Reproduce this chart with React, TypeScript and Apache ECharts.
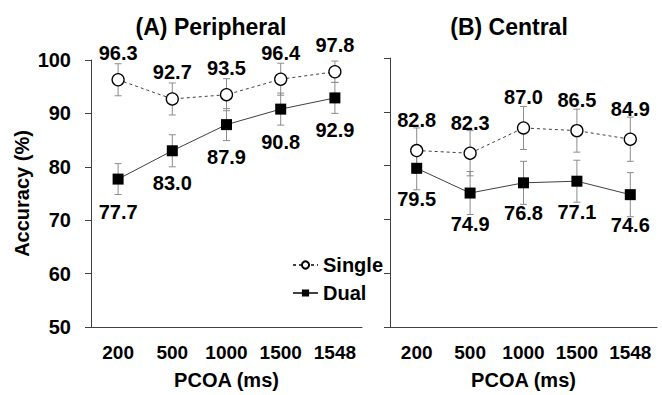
import React, { useEffect, useRef } from "react";
import * as echarts from "echarts";

const categories = ["200", "500", "1000", "1500", "1548"];
const periphSingle = [96.3, 92.7, 93.5, 96.4, 97.8];
const periphDual = [77.7, 83.0, 87.9, 90.8, 92.9];
const centralSingle = [82.8, 82.3, 87.0, 86.5, 84.9];
const centralDual = [79.5, 74.9, 76.8, 77.1, 74.6];
const periphSingleErr = [3.0, 3.0, 3.0, 3.0, 2.0];
const periphDualErr = [2.9, 3.0, 3.0, 3.0, 2.9];
const centralSingleErr = [4.2, 4.2, 4.0, 4.0, 4.1];
const centralDualErr = [4.0, 4.0, 4.0, 3.9, 4.1];
const panelTitles = ["(A) Peripheral", "(B) Central"];
const yMin = 50;
const yMax = 100;
const yStep = 10;

const FONT = "'Liberation Sans', Arial, sans-serif";
const AXIS_COLOR = "#404040";

function errData(vals: number[], errs: number[]) {
  return vals.map((v, i) => [i, v - errs[i], v + errs[i]]);
}

function errSeries(axisIdx: number, vals: number[], errs: number[]) {
  return {
    type: "custom",
    name: "err" + axisIdx + vals[0],
    xAxisIndex: axisIdx,
    yAxisIndex: axisIdx,
    z: 1,
    encode: { x: 0, y: [1, 2] },
    data: errData(vals, errs),
    renderItem: (params: any, api: any) => {
      const x = api.value(0);
      const lo = api.value(1);
      const hi = api.value(2);
      const top = api.coord([x, hi]);
      const bot = api.coord([x, lo]);
      const hw = 3.5;
      const style = { stroke: "#8c8c8c", lineWidth: 1 };
      return {
        type: "group",
        children: [
          { type: "line", shape: { x1: top[0], y1: top[1], x2: bot[0], y2: bot[1] }, style },
          { type: "line", shape: { x1: top[0] - hw, y1: top[1], x2: top[0] + hw, y2: top[1] }, style },
          { type: "line", shape: { x1: bot[0] - hw, y1: bot[1], x2: bot[0] + hw, y2: bot[1] }, style },
        ],
      };
    },
  };
}

const labelStyle = {
  show: true,
  color: "#000",
  fontFamily: FONT,
  fontWeight: "bold" as const,
  fontSize: 20,
  formatter: (p: any) => Number(p.value).toFixed(1),
};

function singleSeries(axisIdx: number, vals: number[], dist: number) {
  return {
    type: "line",
    name: "Single",
    xAxisIndex: axisIdx,
    yAxisIndex: axisIdx,
    z: 3,
    data: vals,
    symbol: "circle",
    symbolSize: 12,
    itemStyle: { color: "#fff", borderColor: "#000", borderWidth: 1.3 },
    lineStyle: { color: "#404040", width: 1, type: [3, 3] },
    label: { ...labelStyle, position: "top", distance: dist },
  };
}

function dualSeries(axisIdx: number, vals: number[], dist: number) {
  return {
    type: "line",
    name: "Dual",
    xAxisIndex: axisIdx,
    yAxisIndex: axisIdx,
    z: 3,
    data: vals,
    symbol: "rect",
    symbolSize: 11,
    itemStyle: { color: "#000", borderColor: "#000", borderWidth: 0 },
    lineStyle: { color: "#404040", width: 1, type: "solid" },
    label: { ...labelStyle, position: "bottom", distance: dist },
  };
}

export default function App() {
  const ref = useRef<HTMLDivElement>(null);
  useEffect(() => {
    if (!ref.current) return;
    const chart = echarts.init(ref.current, undefined, { renderer: "svg" });
    const axisCommon = {
      axisLine: { show: true, lineStyle: { color: AXIS_COLOR, width: 1 } },
    };
    const option: any = {
      animation: false,
      backgroundColor: "#fff",
      title: [
        {
          text: panelTitles[0],
          left: 206,
          top: 10,
          textAlign: "center",
          textStyle: { fontFamily: FONT, fontWeight: "bold", fontSize: 23, color: "#000" },
        },
        {
          text: panelTitles[1],
          left: 504,
          top: 10,
          textAlign: "center",
          textStyle: { fontFamily: FONT, fontWeight: "bold", fontSize: 23, color: "#000" },
        },
      ],
      legend: {
        data: ["Single", "Dual"],
        orient: "vertical",
        left: 287,
        top: 250,
        itemWidth: 25,
        itemHeight: 9,
        itemGap: 8,
        textStyle: { fontFamily: FONT, fontWeight: "bold", fontSize: 20, color: "#000" },
      },
      grid: [
        { left: 91, top: 60, width: 271, height: 273 },
        { left: 390, top: 58, width: 267, height: 275 },
      ],
      xAxis: [0, 1].map((i) => ({
        type: "category",
        gridIndex: i,
        data: categories,
        ...axisCommon,
        axisTick: { show: false },
        axisLabel: { interval: 0, margin: 16, fontFamily: FONT, fontWeight: "bold", fontSize: 19, color: "#000" },
        name: "PCOA (ms)",
        nameLocation: "middle",
        nameGap: 43,
        nameTextStyle: { fontFamily: FONT, fontWeight: "bold", fontSize: 20, color: "#000" },
      })),
      yAxis: [0, 1].map((i) => ({
        type: "value",
        gridIndex: i,
        min: yMin,
        max: yMax,
        interval: yStep,
        ...axisCommon,
        splitLine: { show: false },
        axisTick: { show: true, length: 6, lineStyle: { color: AXIS_COLOR } },
        axisLabel: {
          show: i === 0,
          margin: 20,
          fontFamily: FONT,
          fontWeight: "bold",
          fontSize: 20,
          color: "#000",
        },
        name: i === 0 ? "Accuracy (%)" : "",
        nameLocation: "middle",
        nameGap: 59,
        nameTextStyle: { fontFamily: FONT, fontWeight: "bold", fontSize: 20, color: "#000" },
      })),
      series: [
        errSeries(0, periphSingle, periphSingleErr),
        errSeries(0, periphDual, periphDualErr),
        errSeries(1, centralSingle, centralSingleErr),
        errSeries(1, centralDual, centralDualErr),
        singleSeries(0, periphSingle, 10),
        dualSeries(0, periphDual, 17),
        singleSeries(1, centralSingle, 14),
        dualSeries(1, centralDual, 15),
      ],
    };
    chart.setOption(option);
    return () => chart.dispose();
  }, []);
  return (
    <div
      ref={ref}
      style={{ position: "fixed", left: 0, top: 0, width: 662, height: 395 }}
    />
  );
}
